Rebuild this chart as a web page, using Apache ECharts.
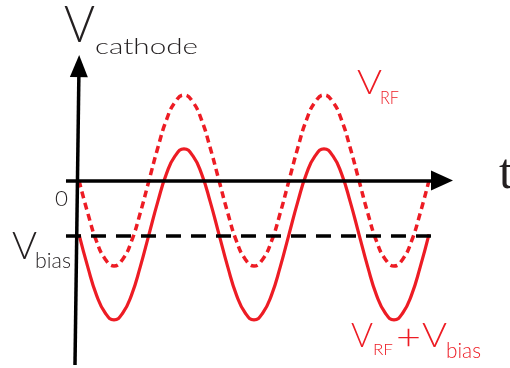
<!DOCTYPE html>
<html><head><meta charset="utf-8">
<script src="https://cdn.jsdelivr.net/npm/echarts@6/dist/echarts.min.js"></script>
<style>html,body{margin:0;padding:0;background:#fff}#c{width:510px;height:368px}</style>
</head><body><div id="c"></div>
<script>
// time in units of RF periods (sampled every 1/16 period)
const tValues = [0, 0.0625, 0.125, 0.1875, 0.25, 0.3125, 0.375, 0.4375, 0.5, 0.5625, 0.625, 0.6875, 0.75, 0.8125, 0.875, 0.9375,
  1, 1.0625, 1.125, 1.1875, 1.25, 1.3125, 1.375, 1.4375, 1.5, 1.5625, 1.625, 1.6875, 1.75, 1.8125, 1.875, 1.9375,
  2, 2.0625, 2.125, 2.1875, 2.25, 2.3125, 2.375, 2.4375, 2.5];
// V_RF (dotted curve), normalised amplitude
const vRF = [0, -0.38, -0.71, -0.92, -1, -0.92, -0.71, -0.38, 0, 0.38, 0.71, 0.92, 1, 0.92, 0.71, 0.38,
  0, -0.38, -0.71, -0.92, -1, -0.92, -0.71, -0.38, 0, 0.38, 0.71, 0.92, 1, 0.92, 0.71, 0.38,
  0, -0.38, -0.71, -0.92, -1, -0.92, -0.71, -0.38, 0];
// V_RF + V_bias (solid curve)
const vRFplusBias = [-0.63, -1.01, -1.34, -1.55, -1.63, -1.55, -1.34, -1.01, -0.63, -0.25, 0.08, 0.29, 0.37, 0.29, 0.08, -0.25,
  -0.63, -1.01, -1.34, -1.55, -1.63, -1.55, -1.34, -1.01, -0.63, -0.25, 0.08, 0.29, 0.37, 0.29, 0.08, -0.25,
  -0.63, -1.01, -1.34, -1.55, -1.63, -1.55, -1.34, -1.01, -0.63];
const vBias = -0.65;
// label texts
const yTitle = ['V', 'cathode'];
const xTitle = 't';
const zeroLabel = '0';
const biasLabel = ['V', 'bias'];
const rfLabel = ['V', 'RF'];
const sumLabel = ['V', 'RF', '+', 'V', 'bias'];

const RED = '#ed1c24';
const INK = '#231f20';
const FONT = 'Lato, "DejaVu Sans", sans-serif';

// layout (axis extents in data units)
const xAxisLine = [-0.093, 2.593];
const yAxisLine = [[-0.0286, -2.158], [0, 1.339]];
const biasLineEnd = 2.564;

const chart = echarts.init(document.getElementById('c'), null, {renderer: 'canvas'});
const mctx = document.createElement('canvas').getContext('2d');

function txt(text, left, cy, size, width, color, family, weight) {
  const font = (weight || 300) + ' ' + size + 'px ' + (family || FONT);
  mctx.font = font;
  const w = mctx.measureText(text).width;
  const sx = width ? width / w : 1;
  return {type: 'text', x: left, y: cy, scaleX: sx, silent: true,
    style: {text: text, fill: color, font: font, verticalAlign: 'middle', align: 'left'}};
}

const option = {
  animation: false,
  grid: {left: 0, right: 0, top: 0, bottom: 0},
  xAxis: {type: 'value', min: -0.5643, max: 3.0786, show: false},
  yAxis: {type: 'value', min: -2.193, max: 2.111, show: false},
  series: [
    {
      name: 'V_RF', type: 'line', smooth: true, showSymbol: false, silent: true,
      data: tValues.map((t, i) => [t, vRF[i]]),
      lineStyle: {color: RED, width: 3.5, type: [7, 4.5]},
      markLine: {
        silent: true, animation: false, label: {show: false},
        data: [
          [{coord: [xAxisLine[0], 0], symbol: 'none', lineStyle: {color: '#000', width: 3.5, type: 'solid'}},
           {coord: [xAxisLine[1], 0], symbol: 'triangle', symbolSize: [20, 22]}],
          [{coord: yAxisLine[0], symbol: 'none', lineStyle: {color: '#000', width: 3.5, type: 'solid'}},
           {coord: yAxisLine[1], symbol: 'triangle', symbolSize: [18, 22]}],
          [{coord: [xAxisLine[0], vBias], symbol: 'none', lineStyle: {color: '#000', width: 3.5, type: [15, 10]}},
           {coord: [biasLineEnd, vBias], symbol: 'none'}]
        ]
      }
    },
    {
      name: 'V_RF+V_bias', type: 'line', smooth: true, showSymbol: false, silent: true,
      data: tValues.map((t, i) => [t, vRFplusBias[i]]),
      lineStyle: {color: RED, width: 3.2, type: 'solid'}
    }
  ],
  graphic: [
    txt(yTitle[0], 64, 25, 52, 31, INK),
    txt(yTitle[1], 95, 47, 22, 103, INK),
    txt(zeroLabel, 55, 199, 22, 13, INK),
    txt(biasLabel[0], 12, 247, 37, 25, INK),
    txt(biasLabel[1], 35, 261, 21, 36, INK),
    txt(rfLabel[0], 357, 83, 34, 25, RED),
    txt(rfLabel[1], 380, 99, 17, 19, RED),
    txt(sumLabel[0], 351, 336, 34, 22, RED),
    txt(sumLabel[1], 373, 350, 16, 20, RED),
    txt(sumLabel[2], 396, 338, 36, 25, RED),
    txt(sumLabel[3], 422, 336, 34, 25, RED),
    txt(sumLabel[4], 446, 351, 21, 35, RED),
    txt(xTitle, 499, 175, 50, 0, INK, '"Liberation Serif", "DejaVu Serif", serif', 400)
  ]
};
chart.setOption(option);
</script></body></html>
